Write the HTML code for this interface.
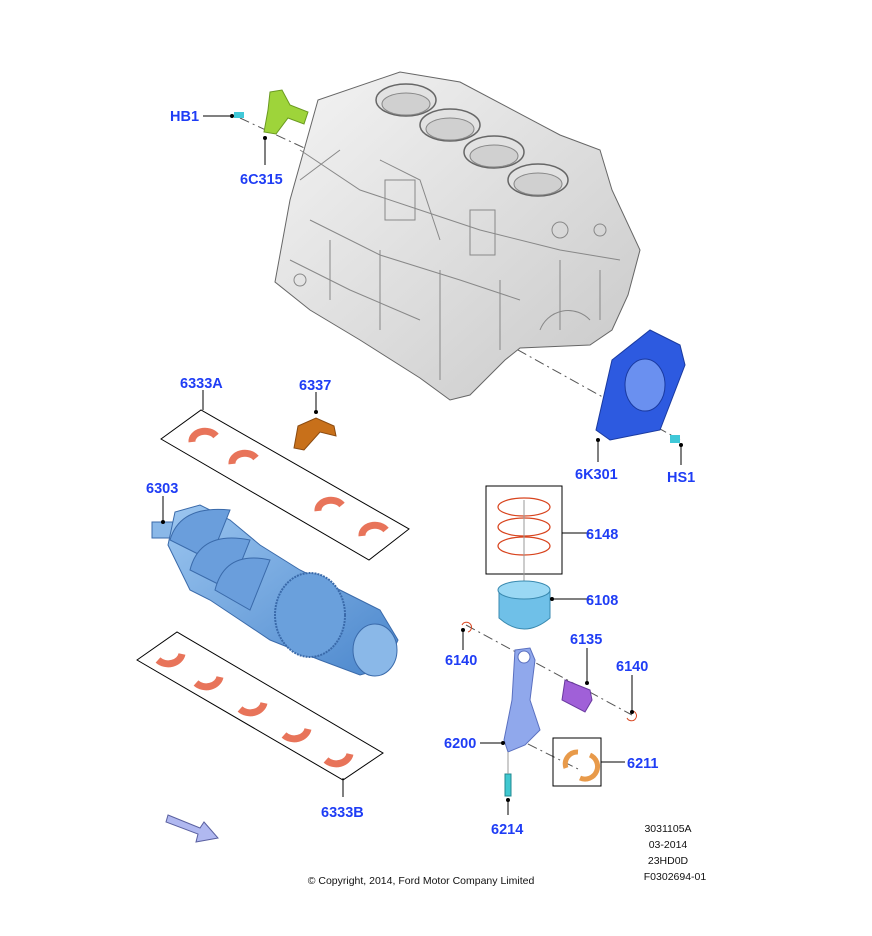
<!DOCTYPE html>
<html><head><meta charset="utf-8"><style>
html,body{margin:0;padding:0;background:#fff;}
svg{display:block;}
.l{font-family:"Liberation Sans",sans-serif;font-weight:bold;font-size:14.5px;fill:#1f3df5;}
.s{font-family:"Liberation Sans",sans-serif;font-size:10.5px;fill:#111;}
</style></head><body>
<svg width="872" height="936" viewBox="0 0 872 936" xmlns="http://www.w3.org/2000/svg">
<defs>
<linearGradient id="gb" x1="0" y1="0" x2="1" y2="1"><stop offset="0" stop-color="#f4f4f4"/><stop offset="1" stop-color="#c8c8c8"/></linearGradient>
<linearGradient id="cb" x1="0" y1="0" x2="1" y2="1"><stop offset="0" stop-color="#9cc6f0"/><stop offset="1" stop-color="#4a86cc"/></linearGradient>
</defs>
<g stroke="#000" stroke-width="1" fill="none">
<line x1="240" y1="118" x2="330" y2="160" stroke-dasharray="10,4,2,4" stroke="#555"/>
<line x1="500" y1="340" x2="680" y2="440" stroke-dasharray="10,4,2,4" stroke="#555"/>
<line x1="466" y1="625" x2="632" y2="715" stroke-dasharray="10,4,2,4" stroke="#555"/>
<line x1="510" y1="735" x2="580" y2="770" stroke-dasharray="10,4,2,4" stroke="#555"/>
</g>
<!-- engine block -->
<path d="M275,282 L290,200 L318,100 L400,72 L460,82 L560,135 L600,150 L612,190 L640,250 L628,295 L612,330 L590,345 L520,348 L505,360 L470,395 L450,400 L420,378 L360,340 L310,310 Z" fill="url(#gb)" stroke="#666" stroke-width="1"/>
<g fill="#e2e2e2" stroke="#666" stroke-width="1.5">
<ellipse cx="406" cy="100" rx="30" ry="16"/><ellipse cx="450" cy="125" rx="30" ry="16"/>
<ellipse cx="494" cy="152" rx="30" ry="16"/><ellipse cx="538" cy="180" rx="30" ry="16"/>
</g>
<g fill="#d0d0d0" stroke="#888">
<ellipse cx="406" cy="104" rx="24" ry="11"/><ellipse cx="450" cy="129" rx="24" ry="11"/>
<ellipse cx="494" cy="156" rx="24" ry="11"/><ellipse cx="538" cy="184" rx="24" ry="11"/>
</g>
<g stroke="#888" stroke-width="1" fill="none">
<path d="M300,150 L360,190 L420,210 L480,230 L560,250 L620,260"/>
<path d="M310,220 L380,255 L460,280 L520,300"/>
<path d="M540,330 A30,30 0 0 1 590,320"/>
<path d="M330,240 L330,300 M380,250 L380,330 M440,270 L440,380 M500,280 L500,350 M560,260 L560,330 M600,270 L600,320"/>
<path d="M290,260 L350,290 L420,320 M300,180 L340,150 M380,160 L420,180 L440,240"/>
<rect x="385" y="180" width="30" height="40"/><rect x="470" y="210" width="25" height="45"/>
<circle cx="300" cy="280" r="6"/><circle cx="560" cy="230" r="8"/><circle cx="600" cy="230" r="6"/>
</g>
<!-- 6C315 bracket -->
<path d="M270,92 L282,90 L290,105 L308,112 L304,124 L288,118 L276,134 L264,132 L268,110 Z" fill="#9ed43a" stroke="#6a9a20"/>
<rect x="234" y="112" width="10" height="6" fill="#40c8d8"/>
<!-- 6K301 seal -->
<path d="M612,360 L650,330 L680,345 L685,365 L660,430 L610,440 L596,430 Z" fill="#2d5ae0" stroke="#1a3aa0"/>
<ellipse cx="645" cy="385" rx="20" ry="26" fill="#6a90f0" stroke="#1a3aa0"/>
<rect x="670" y="435" width="10" height="8" fill="#40c8d8"/>
<!-- bearing boxes -->
<polygon points="161,439 201,410 409,529 369,560" fill="none" stroke="#000"/>
<polygon points="137,660 177,632 383,753 343,780" fill="none" stroke="#000"/>
<g fill="none" stroke="#e8745a" stroke-width="7">
<path d="M192,442 A13,10 0 0 1 216,436"/><path d="M232,464 A13,10 0 0 1 256,458"/>
<path d="M318,511 A13,10 0 0 1 342,505"/><path d="M362,536 A13,10 0 0 1 386,530"/>
<path d="M158,660 A14,12 0 0 0 182,654"/><path d="M196,683 A14,12 0 0 0 220,677"/>
<path d="M240,709 A14,12 0 0 0 264,703"/><path d="M284,735 A14,12 0 0 0 308,729"/>
<path d="M326,760 A14,12 0 0 0 350,754"/>
</g>
<path d="M294,448 L298,426 L316,418 L334,426 L336,436 L320,432 L304,450 Z" fill="#c8701a" stroke="#8a4a10"/>
<!-- crankshaft -->
<rect x="152" y="522" width="30" height="16" fill="#8ab8e8" stroke="#3a6aaa"/>
<path d="M168,545 L175,512 L200,505 L230,520 L260,545 L300,570 L340,590 L380,610 L398,640 L385,668 L360,675 L320,660 L270,640 L240,620 L210,600 L190,590 Z" fill="url(#cb)" stroke="#3a6aaa"/>
<g fill="#6a9edc" stroke="#3a6aaa">
<path d="M170,540 Q180,505 230,510 L210,560 Z"/>
<path d="M190,570 Q200,530 250,540 L230,590 Z"/>
<path d="M215,590 Q225,550 270,560 L250,610 Z"/>
</g>
<ellipse cx="310" cy="615" rx="35" ry="42" fill="#6aa0dc" stroke="#3a6aaa" stroke-width="2" stroke-dasharray="2,1"/>
<ellipse cx="375" cy="650" rx="22" ry="26" fill="#8ab8e8" stroke="#3a6aaa"/>
<!-- piston rings -->
<rect x="486" y="486" width="76" height="88" fill="none" stroke="#000"/>
<g fill="none" stroke="#d8441e" stroke-width="1.2">
<ellipse cx="524" cy="507" rx="26" ry="9"/><ellipse cx="524" cy="527" rx="26" ry="9"/><ellipse cx="524" cy="546" rx="26" ry="9"/>
</g>
<line x1="524" y1="500" x2="524" y2="595" stroke="#999"/>
<path d="M499,590 L499,618 Q524,640 550,618 L550,590 Z" fill="#6fc0e8" stroke="#3a8ab0"/>
<ellipse cx="524" cy="590" rx="26" ry="9" fill="#9ad8f4" stroke="#3a8ab0"/>
<path d="M462,625 A5,5 0 1 1 468,632" fill="none" stroke="#d8441e"/>
<path d="M633,711 A5,5 0 1 1 627,718" fill="none" stroke="#d8441e"/>
<path d="M565,680 L590,690 L592,700 L585,712 L562,700 Z" fill="#a060d8" stroke="#6a3aa0"/>
<!-- con rod -->
<path d="M515,650 L530,648 L535,660 L530,700 L540,730 L525,745 L508,752 L504,740 L512,700 Z" fill="#90a8ec" stroke="#5a70c0"/>
<circle cx="524" cy="657" r="6" fill="#fff" stroke="#5a70c0"/>
<rect x="505" y="774" width="6" height="22" fill="#40c8d0" stroke="#208890"/>
<line x1="508" y1="752" x2="508" y2="774" stroke="#999"/>
<rect x="553" y="738" width="48" height="48" fill="none" stroke="#000"/>
<g fill="none" stroke="#e89a4a" stroke-width="5">
<path d="M566,768 A12,12 0 0 1 578,752"/><path d="M590,755 A12,12 0 0 1 580,778"/>
</g>
<polygon points="168,815 200,828 204,822 218,838 196,842 198,834 166,822" fill="#b0b8f0" stroke="#5a60a0"/>
<g stroke="#000" stroke-width="1">
<line x1="203" y1="116" x2="232" y2="116"/><line x1="265" y1="138" x2="265" y2="165"/>
<line x1="203" y1="390" x2="203" y2="410"/><line x1="316" y1="392" x2="316" y2="412"/>
<line x1="163" y1="496" x2="163" y2="522"/><line x1="562" y1="533" x2="590" y2="533"/>
<line x1="552" y1="599" x2="590" y2="599"/><line x1="587" y1="648" x2="587" y2="683"/>
<line x1="463" y1="650" x2="463" y2="630"/><line x1="632" y1="675" x2="632" y2="712"/>
<line x1="480" y1="743" x2="503" y2="743"/><line x1="601" y1="762" x2="625" y2="762"/>
<line x1="508" y1="815" x2="508" y2="800"/><line x1="343" y1="797" x2="343" y2="778"/>
<line x1="598" y1="462" x2="598" y2="440"/><line x1="681" y1="465" x2="681" y2="445"/>
</g>
<g fill="#000">
<circle cx="232" cy="116" r="2"/><circle cx="265" cy="138" r="2"/><circle cx="316" cy="412" r="2"/>
<circle cx="163" cy="522" r="2"/><circle cx="552" cy="599" r="2"/><circle cx="587" cy="683" r="2"/>
<circle cx="463" cy="630" r="2"/><circle cx="632" cy="712" r="2"/><circle cx="503" cy="743" r="2"/>
<circle cx="508" cy="800" r="2"/><circle cx="598" cy="440" r="2"/><circle cx="681" cy="445" r="2"/>
</g>
<g class="l">
<text x="170" y="121">HB1</text><text x="240" y="184">6C315</text>
<text x="180" y="388">6333A</text><text x="299" y="390">6337</text>
<text x="146" y="493">6303</text><text x="586" y="539">6148</text>
<text x="586" y="605">6108</text><text x="570" y="644">6135</text>
<text x="445" y="665">6140</text><text x="616" y="671">6140</text>
<text x="444" y="748">6200</text><text x="627" y="768">6211</text>
<text x="491" y="834">6214</text><text x="321" y="817">6333B</text>
<text x="575" y="479">6K301</text><text x="667" y="482">HS1</text>
</g>
<g class="s" text-anchor="middle">
<text x="421" y="884">© Copyright, 2014, Ford Motor Company Limited</text>
<text x="668" y="832">3031105A</text><text x="668" y="848">03-2014</text>
<text x="668" y="864">23HD0D</text><text x="675" y="880">F0302694-01</text>
</g>
</svg>
</body></html>
